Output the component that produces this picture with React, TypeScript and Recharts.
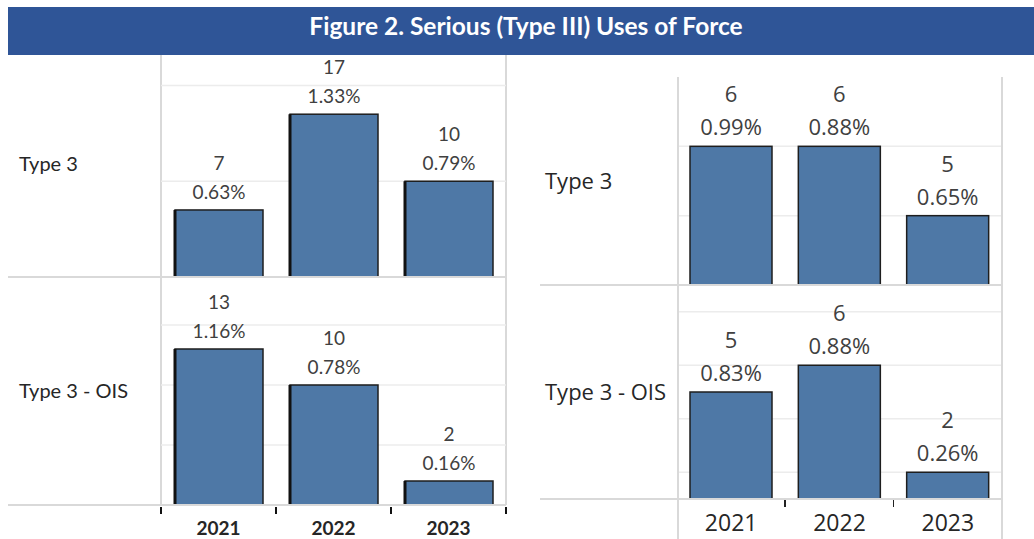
import { BarChart, Bar, XAxis, YAxis, CartesianGrid, LabelList } from "recharts";

const years = ["2021", "2022", "2023"];

// first block (left)
const leftType3 = [7, 17, 10];
const leftType3Pct = ["0.63%", "1.33%", "0.79%"];
const leftOis = [13, 10, 2];
const leftOisPct = ["1.16%", "0.78%", "0.16%"];

// second block (right)
const rightType3 = [6, 6, 5];
const rightType3Pct = ["0.99%", "0.88%", "0.65%"];
const rightOis = [5, 6, 2];
const rightOisPct = ["0.83%", "0.88%", "0.26%"];

const rowLabels = ["Type 3", "Type 3 - OIS"];

const toRows = (values: number[], pcts: string[]) =>
  years.map((year, i) => ({ year, value: values[i], pct: pcts[i] }));

const BAR_FILL = "#4e78a6";
const GRID = "#d9d9d9";

type Theme = {
  font: string;
  rowSize: number;
  rowColor: string;
  rowOffset: number;
  valueSize: number;
  valueColor: string;
  countGap: number;
  pctGap: number;
  yearSize: number;
  yearWeight: number | string;
  yearMargin: number;
  thickLeft: boolean;
};

const leftTheme: Theme = {
  font: 'Lato, "Open Sans", sans-serif',
  rowSize: 20,
  rowColor: "#262626",
  rowOffset: 11,
  valueSize: 19,
  valueColor: "#404040",
  countGap: 40,
  pctGap: 11,
  yearSize: 19,
  yearWeight: "bold",
  yearMargin: 17,
  thickLeft: true,
};

const rightTheme: Theme = {
  font: '"Open Sans", sans-serif',
  rowSize: 22,
  rowColor: "#262626",
  rowOffset: 5,
  valueSize: 22,
  valueColor: "#404040",
  countGap: 44,
  pctGap: 11,
  yearSize: 23,
  yearWeight: "normal",
  yearMargin: 16,
  thickLeft: false,
};

type PanelProps = {
  rows: { year: string; value: number; pct: string }[];
  label: string;
  left: number;
  top: number;
  width: number;
  height: number;
  plotLeft: number;
  domain: [number, number];
  ticks: number[];
  barSize: number;
  theme: Theme;
  showYears?: boolean;
};

function Panel({ rows, label, left, top, width, height, plotLeft, domain, ticks, barSize, theme, showYears }: PanelProps) {
  const axisH = showYears ? 40 : 0;

  const shape = (p: any) => {
    const { x, y, width: w, height: h } = p;
    return (
      <g>
        <rect x={x} y={y} width={w} height={h} fill={BAR_FILL} stroke="#1e1e1e" strokeWidth={1.5} />
        {theme.thickLeft && <line x1={x} x2={x} y1={y} y2={y + h} stroke="#111" strokeWidth={3} />}
      </g>
    );
  };

  const valueLabel = (p: any) => {
    const { x, y, width: w, index } = p;
    const row = rows[index];
    const cx = x + w / 2;
    return (
      <text textAnchor="middle" fill={theme.valueColor} fontSize={theme.valueSize} fontFamily={theme.font}>
        <tspan x={cx} y={y - theme.countGap}>{row.value}</tspan>
        <tspan x={cx} y={y - theme.pctGap}>{row.pct}</tspan>
      </text>
    );
  };

  // gridline positions follow the panel's value domain
  const gridY = ({ offset }: any) =>
    ticks.map((t) => offset.top + offset.height * (1 - (t - domain[0]) / (domain[1] - domain[0])));

  return (
    <div style={{ position: "absolute", left, top }}>
      <BarChart
        width={width}
        height={height + axisH}
        data={rows}
        margin={{ top: 0, right: 0, bottom: 0, left: 0 }}
        style={{ overflow: "visible" }}
      >
        <CartesianGrid vertical={false} horizontalCoordinatesGenerator={gridY} stroke="#ececec" strokeWidth={1.5} />
        <XAxis
          dataKey="year"
          hide={!showYears}
          height={axisH}
          axisLine={false}
          tickLine={false}
          tickSize={0}
          tickMargin={theme.yearMargin}
          interval={0}
          tick={{ fill: "#262626", fontSize: theme.yearSize, fontFamily: theme.font, fontWeight: theme.yearWeight }}
        />
        <YAxis
          width={plotLeft - left}
          domain={domain}
          ticks={ticks}
          allowDataOverflow
          tick={false}
          axisLine={false}
          tickLine={false}
          label={{
            value: label,
            position: "insideLeft",
            offset: theme.rowOffset,
            fill: theme.rowColor,
            fontSize: theme.rowSize,
            fontFamily: theme.font,
          }}
        />
        <Bar dataKey="value" barSize={barSize} fill={BAR_FILL} shape={shape} isAnimationActive={false}>
          <LabelList dataKey="value" content={valueLabel} />
        </Bar>
      </BarChart>
    </div>
  );
}

const Rule = ({ x, y, w, h, c = GRID }: { x: number; y: number; w: number; h: number; c?: string }) => (
  <div style={{ position: "absolute", left: x, top: y, width: w, height: h, background: c }} />
);

// layout of the two blocks
const L = { x0: 8, plot: 161, x1: 506, top: 55, mid: 277, base: 505 };
const R = { x0: 540, plot: 677, x1: 1002, top: 77, mid: 285, base: 499 };

export default function App() {
  const lBand = (L.x1 - L.plot) / years.length;
  const rBand = (R.x1 - R.plot) / years.length;

  return (
    <div style={{ position: "absolute", left: 0, top: 0, width: 1034, height: 539, background: "#fff", overflow: "hidden" }}>
      {/* left block */}
      <Rule x={L.plot - 1} y={L.top} w={1.5} h={L.base - L.top} />
      <Rule x={L.x1 - 1} y={L.top} w={1.5} h={L.base - L.top} />

      <Panel rows={toRows(leftType3, leftType3Pct)} label={rowLabels[0]} left={L.x0} top={L.top - 4} width={L.x1 - L.x0}
        height={L.mid - L.top + 4} plotLeft={L.plot} domain={[0, 23.6]} ticks={[10, 20]} barSize={88} theme={leftTheme} />
      <Panel rows={toRows(leftOis, leftOisPct)} label={rowLabels[1]} left={L.x0} top={L.mid} width={L.x1 - L.x0}
        height={L.base - L.mid} plotLeft={L.plot} domain={[0, 19]} ticks={[5, 10, 15]} barSize={88} theme={leftTheme} showYears />

      <Rule x={L.x0} y={L.mid - 1} w={L.x1 - L.x0} h={2} />
      <Rule x={L.x0} y={L.base - 1} w={L.x1 - L.x0} h={2} />
      {[0, 1, 2, 3].map((i) => (
        <Rule key={i} x={L.plot + i * lBand - 1.5} y={L.base + 2} w={2.5} h={7} c="#111" />
      ))}

      {/* right block */}
      <Panel rows={toRows(rightType3, rightType3Pct)} label={rowLabels[0]} left={R.x0} top={R.top} width={R.x1 - R.x0}
        height={R.mid - R.top} plotLeft={R.plot} domain={[4, 7]} ticks={[5, 6]} barSize={82} theme={rightTheme} />
      <Panel rows={toRows(rightOis, rightOisPct)} label={rowLabels[1]} left={R.x0} top={R.mid} width={R.x1 - R.x0}
        height={R.base - R.mid} plotLeft={R.plot} domain={[1, 9]} ticks={[2, 4, 6, 8]} barSize={82} theme={rightTheme} showYears />

      {/* keep the top edge of the right block open */}
      <Rule x={R.plot - 2} y={R.top - 8} w={R.x1 - R.plot + 4} h={10} c="#fff" />
      <Rule x={R.plot} y={R.top} w={1.5} h={539 - R.top} />
      <Rule x={R.x1 - 1} y={R.top} w={1.5} h={539 - R.top} />
      <Rule x={R.x0} y={R.mid - 1} w={R.x1 - R.x0} h={2} />
      <Rule x={R.x0} y={R.base - 1} w={R.x1 - R.x0} h={2} />
      {[1, 2].map((i) => (
        <Rule key={i} x={R.plot + i * rBand - 1} y={R.base + 1} w={1.5} h={7} c="#222" />
      ))}

      <div
        style={{
          position: "absolute",
          left: 8,
          top: 7,
          width: 1026,
          height: 48,
          background: "#2f5597",
          color: "#fff",
          fontFamily: 'Lato, "Open Sans", sans-serif',
          fontWeight: "bold",
          fontSize: 24.5,
          display: "flex",
          alignItems: "center",
          justifyContent: "center",
          paddingLeft: 10,
          paddingBottom: 12,
          boxSizing: "border-box",
        }}
      >
        Figure 2. Serious (Type III) Uses of Force
      </div>
    </div>
  );
}
